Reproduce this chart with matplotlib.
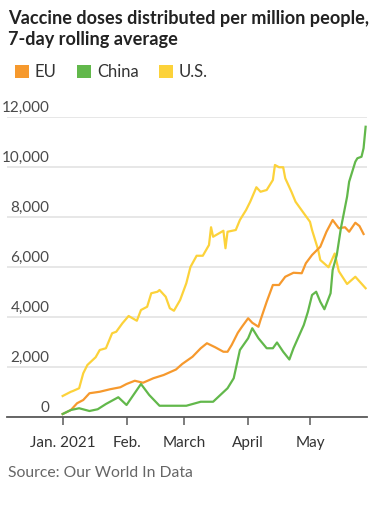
import pandas as pd
import matplotlib
matplotlib.use('Agg')
import matplotlib.pyplot as plt
from matplotlib.patches import Patch

# values (doses per million, 7-day average)
us_dates = ['2021-01-01', '2021-01-05', '2021-01-06', '2021-01-09', '2021-01-11', '2021-01-13',
            '2021-01-17', '2021-01-19', '2021-01-22', '2021-01-25', '2021-01-27', '2021-01-30',
            '2021-02-02', '2021-02-06', '2021-02-08', '2021-02-11', '2021-02-13', '2021-02-16',
            '2021-02-17', '2021-02-20', '2021-02-22', '2021-02-24', '2021-02-27', '2021-03-02',
            '2021-03-04', '2021-03-07', '2021-03-10', '2021-03-13', '2021-03-14', '2021-03-15',
            '2021-03-20', '2021-03-21', '2021-03-22', '2021-03-26', '2021-03-28', '2021-03-31',
            '2021-04-02', '2021-04-05', '2021-04-07', '2021-04-10', '2021-04-13', '2021-04-14',
            '2021-04-16', '2021-04-18', '2021-04-19', '2021-04-22', '2021-04-24', '2021-04-28',
            '2021-05-01', '2021-05-02', '2021-05-05', '2021-05-06', '2021-05-10', '2021-05-13',
            '2021-05-15', '2021-05-19', '2021-05-23', '2021-05-28']
us_vals = [840, 1010, 1040, 1150, 1750, 2080,
           2390, 2680, 2750, 3350, 3410, 3750,
           4040, 3850, 4280, 4410, 4950, 5010,
           5080, 4810, 4350, 4250, 4680, 5350,
           6000, 6450, 6450, 6880, 7590, 7210,
           7450, 6750, 7410, 7480, 7880, 8280,
           8610, 9190, 9010, 9080, 9480, 10080,
           9990, 9990, 9550, 9010, 8610, 8150,
           7810, 7480, 6680, 6280, 5990, 6540,
           5830, 5320, 5610, 5150]

eu_dates = ['2021-01-01', '2021-01-05', '2021-01-08', '2021-01-11', '2021-01-14', '2021-01-19',
            '2021-01-24', '2021-01-29', '2021-02-01', '2021-02-05', '2021-02-09', '2021-02-14',
            '2021-02-19', '2021-02-25', '2021-02-28', '2021-03-05', '2021-03-09', '2021-03-12',
            '2021-03-16', '2021-03-20', '2021-03-22', '2021-03-24', '2021-03-27', '2021-03-29',
            '2021-04-01', '2021-04-03', '2021-04-06', '2021-04-07', '2021-04-10', '2021-04-13',
            '2021-04-16', '2021-04-19', '2021-04-23', '2021-04-27', '2021-04-29', '2021-05-02',
            '2021-05-06', '2021-05-09', '2021-05-12', '2021-05-15', '2021-05-18', '2021-05-20',
            '2021-05-23', '2021-05-25', '2021-05-27']
eu_vals = [120, 280, 550, 680, 950, 1010,
           1110, 1190, 1320, 1450, 1370, 1550,
           1680, 1900, 2120, 2410, 2750, 2950,
           2790, 2610, 2610, 2880, 3370, 3610,
           3950, 3770, 3610, 3880, 4610, 5280,
           5280, 5610, 5770, 5750, 6150, 6480,
           6810, 7410, 7880, 7550, 7590, 7410,
           7770, 7640, 7320]

china_dates = ['2021-01-01', '2021-01-05', '2021-01-09', '2021-01-14', '2021-01-18', '2021-01-22',
               '2021-01-28', '2021-02-01', '2021-02-08', '2021-02-12', '2021-02-17', '2021-03-02',
               '2021-03-09', '2021-03-15', '2021-03-22', '2021-03-25', '2021-03-28', '2021-04-01',
               '2021-04-03', '2021-04-06', '2021-04-10', '2021-04-13', '2021-04-15', '2021-04-18',
               '2021-04-21', '2021-04-23', '2021-04-28', '2021-04-30', '2021-05-02', '2021-05-04',
               '2021-05-06', '2021-05-08', '2021-05-11', '2021-05-12', '2021-05-14', '2021-05-16',
               '2021-05-19', '2021-05-20', '2021-05-23', '2021-05-24', '2021-05-26', '2021-05-27',
               '2021-05-28']
china_vals = [120, 280, 350, 240, 310, 520,
              790, 480, 1320, 880, 450, 450,
              610, 610, 1150, 1550, 2680, 3150,
              3550, 3150, 2750, 2750, 2980, 2610,
              2300, 2750, 3680, 4210, 4880, 5010,
              4610, 4310, 4950, 5880, 6480, 7550,
              8810, 9410, 10210, 10350, 10410, 10750,
              11610]

series_names = ['EU', 'China', 'U.S.']
colors = ['#F6992D', '#62B84B', '#FCD23A']
y_ticks = [0, 2000, 4000, 6000, 8000, 10000, 12000]
x_tick_dates = ['2021-01-01', '2021-02-01', '2021-03-01', '2021-04-01', '2021-05-01']
x_tick_labels = ['Jan. 2021', 'Feb.', 'March', 'April', 'May']

plt.rcParams['font.family'] = ['Lato', 'DejaVu Sans']

W, H = 382, 513
fig = plt.figure(figsize=(W / 100, H / 100), dpi=100)
ax = fig.add_axes([7 / W, 1 - 417 / H, 360 / W, 300 / H])

for dates, vals, c in [(us_dates, us_vals, colors[2]),
                       (eu_dates, eu_vals, colors[0]),
                       (china_dates, china_vals, colors[1])]:
    ax.plot(pd.to_datetime(dates), vals, color=c, lw=1.6, solid_joinstyle='round', zorder=3)

ax.set_ylim(0, 12000)
ax.set_xlim(pd.Timestamp('2020-12-05'), pd.Timestamp('2021-05-28 16:00'))

for s in ['top', 'right', 'left']:
    ax.spines[s].set_visible(False)
ax.spines['bottom'].set_color('#5a5a5a')
ax.spines['bottom'].set_linewidth(1.3)
ax.spines['bottom'].set_zorder(4)

ax.set_yticks(y_ticks)
ax.yaxis.grid(True, color='#e0e0e0', lw=1.1)
ax.set_axisbelow(True)
ax.tick_params(axis='y', length=0, labelleft=False)
for v in y_ticks:
    ax.text(0.118, v + 90, f'{v:,}', transform=ax.get_yaxis_transform(),
            ha='right', va='bottom', fontsize=11, color='#4a4a4a')

ax.set_xticks(pd.to_datetime(x_tick_dates))
ax.set_xticklabels(x_tick_labels)
ax.tick_params(axis='x', length=6, width=1.1, color='#5a5a5a', labelsize=11,
               labelcolor='#333333', pad=8)

fig.text(8 / W, 1 - 10 / H, 'Vaccine doses distributed per million people,\n7-day rolling average',
         ha='left', va='top', fontsize=13.1, fontweight='bold', color='#222222', linespacing=1.3)

handles = [Patch(facecolor=c, edgecolor='none') for c in colors]
fig.legend(handles, series_names, loc='center left', bbox_to_anchor=(0 / W, 1 - 72 / H),
           ncol=3, frameon=False, fontsize=12, handlelength=0.85, handleheight=0.85,
           handletextpad=0.35, columnspacing=1.2, labelcolor='#333333')

fig.text(8 / W, 1 - 473 / H, 'Source: Our World In Data', ha='left', va='center',
         fontsize=11.3, color='#666666')

fig.savefig('out.png', dpi=100)
